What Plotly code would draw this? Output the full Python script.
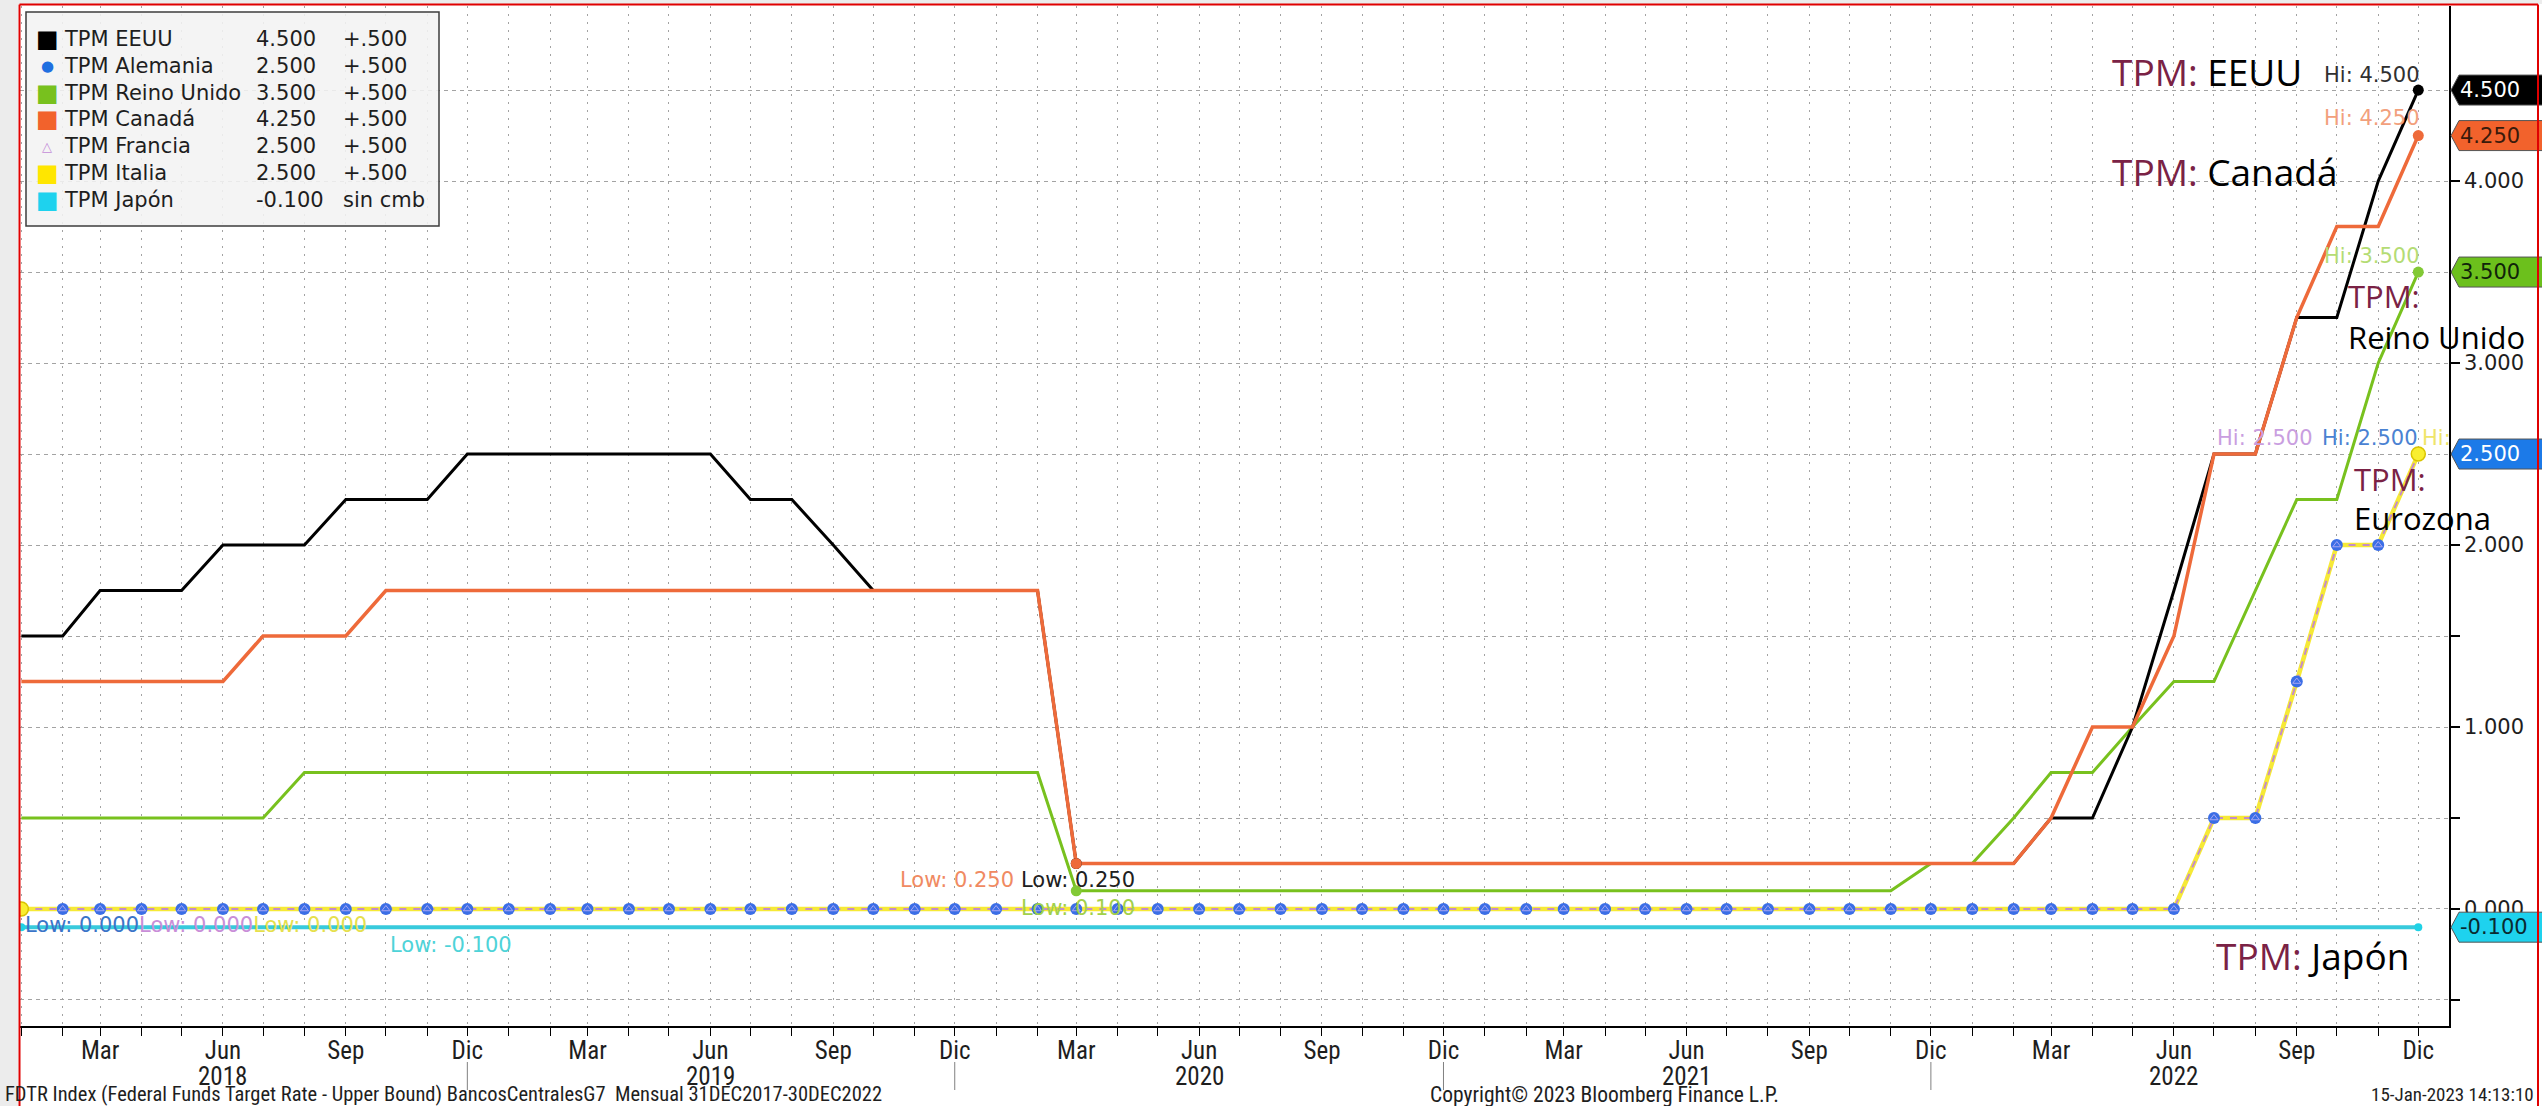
import pandas as pd
import plotly.graph_objects as go

# ---- data (month-end policy rates, Jan 2018 .. Dec 2022) ----
dates = pd.date_range("2018-01-01", "2022-12-01", freq="MS")

eeuu = [1.5, 1.5, 1.75, 1.75, 1.75, 2.0, 2.0, 2.0, 2.25, 2.25, 2.25, 2.5,
        2.5, 2.5, 2.5, 2.5, 2.5, 2.5, 2.25, 2.25, 2.0, 1.75, 1.75, 1.75,
        1.75, 1.75, 0.25, 0.25, 0.25, 0.25, 0.25, 0.25, 0.25, 0.25, 0.25, 0.25,
        0.25, 0.25, 0.25, 0.25, 0.25, 0.25, 0.25, 0.25, 0.25, 0.25, 0.25, 0.25,
        0.25, 0.25, 0.5, 0.5, 1.0, 1.75, 2.5, 2.5, 3.25, 3.25, 4.0, 4.5]
canada = [1.25, 1.25, 1.25, 1.25, 1.25, 1.25, 1.5, 1.5, 1.5, 1.75, 1.75, 1.75,
          1.75, 1.75, 1.75, 1.75, 1.75, 1.75, 1.75, 1.75, 1.75, 1.75, 1.75, 1.75,
          1.75, 1.75, 0.25, 0.25, 0.25, 0.25, 0.25, 0.25, 0.25, 0.25, 0.25, 0.25,
          0.25, 0.25, 0.25, 0.25, 0.25, 0.25, 0.25, 0.25, 0.25, 0.25, 0.25, 0.25,
          0.25, 0.25, 0.5, 1.0, 1.0, 1.5, 2.5, 2.5, 3.25, 3.75, 3.75, 4.25]
reino_unido = [0.5, 0.5, 0.5, 0.5, 0.5, 0.5, 0.5, 0.75, 0.75, 0.75, 0.75, 0.75,
               0.75, 0.75, 0.75, 0.75, 0.75, 0.75, 0.75, 0.75, 0.75, 0.75, 0.75, 0.75,
               0.75, 0.75, 0.1, 0.1, 0.1, 0.1, 0.1, 0.1, 0.1, 0.1, 0.1, 0.1,
               0.1, 0.1, 0.1, 0.1, 0.1, 0.1, 0.1, 0.1, 0.1, 0.1, 0.1, 0.25,
               0.25, 0.5, 0.75, 0.75, 1.0, 1.25, 1.25, 1.75, 2.25, 2.25, 3.0, 3.5]
alemania = [0.0] * 54 + [0.5, 0.5, 1.25, 2.0, 2.0, 2.5]
francia = [0.0] * 54 + [0.5, 0.5, 1.25, 2.0, 2.0, 2.5]
italia = [0.0] * 54 + [0.5, 0.5, 1.25, 2.0, 2.0, 2.5]
japon = [-0.1] * 60

month_abbr = {3: "Mar", 6: "Jun", 9: "Sep", 12: "Dic"}
y_ticks = [-0.5, 0.0, 0.5, 1.0, 1.5, 2.0, 2.5, 3.0, 3.5, 4.0, 4.5]

# ---- look ----
C = {
    "black": "#000000", "orange": "#ee6a3a", "green": "#78c11e",
    "blue": "#3b6ee6", "violet": "#c48cc8", "yellow": "#f6e936",
    "cyan": "#38cadc", "grid": "#a3a3a3", "ink": "#1e1e1e", "tpm": "#7a2245",
}
UI = "DejaVu Sans"
NARROW = "Roboto Condensed, Liberation Sans Narrow, Roboto, sans-serif"
BIG = "Open Sans"

W, H = 2542, 1106
L, R, T, B = 20, 2449, 6, 1026          # plot area in page pixels
Y_RANGE = [-0.643, 4.962]
X_RANGE = ["2017-12-31", "2022-12-24"]
PPU = (B - T) / (Y_RANGE[1] - Y_RANGE[0])  # pixels per rate unit


def xp(px):
    return (px - L) / (R - L)


def yp(py):
    return (B - py) / (B - T)


def hi_lo(vals):
    hi = max(vals)
    lo = min(vals)
    return len(vals) - 1 - vals[::-1].index(hi), vals.index(lo)


fig = go.Figure()

# ---- lines ----
fig.add_trace(go.Scatter(x=dates, y=japon, mode="lines",
                         line=dict(color=C["cyan"], width=4)))
fig.add_trace(go.Scatter(x=dates, y=italia, mode="lines",
                         line=dict(color=C["yellow"], width=4.5)))
fig.add_trace(go.Scatter(x=dates, y=francia, mode="lines",
                         line=dict(color=C["violet"], width=2, dash="7px,7px")))
fig.add_trace(go.Scatter(x=dates, y=alemania, mode="markers",
                         marker=dict(symbol="circle", size=12, color=C["blue"])))
fig.add_trace(go.Scatter(x=dates, y=francia, mode="markers",
                         marker=dict(symbol="triangle-up-open", size=7,
                                     color="#a9a6f2", line=dict(width=1))))
fig.add_trace(go.Scatter(x=dates, y=reino_unido, mode="lines",
                         line=dict(color=C["green"], width=3)))
fig.add_trace(go.Scatter(x=dates, y=eeuu, mode="lines",
                         line=dict(color=C["black"], width=3)))
fig.add_trace(go.Scatter(x=dates, y=canada, mode="lines",
                         line=dict(color=C["orange"], width=3.5)))

# ---- hi / low markers ----
for vals, col, size, lw in [(eeuu, C["black"], 11, 0), (reino_unido, "#82c935", 11, 0),
                            (canada, C["orange"], 11, 0), (italia, "#f9ee30", 14, 1.5),
                            (japon, "#1fd2e6", 8, 0)]:
    hi, lo = hi_lo(vals)
    fig.add_trace(go.Scatter(
        x=[dates[hi], dates[lo]], y=[vals[hi], vals[lo]], mode="markers",
        marker=dict(size=size, color=col, line=dict(width=lw, color="#d9c400")),
    ))


def label(x, y, text, color, xanchor="center", xshift=0, yshift=0):
    fig.add_annotation(x=x, y=y, text=text, showarrow=False, xanchor=xanchor,
                       yanchor="middle", xshift=xshift, yshift=yshift,
                       font=dict(family=UI, size=21, color=color))


i_hi, _ = hi_lo(eeuu)
label(dates[i_hi], eeuu[i_hi], f"Hi: {eeuu[i_hi]:.3f}", "#303030", "right", 4, 15)
i_hi, i_lo = hi_lo(canada)
label(dates[i_hi], canada[i_hi], f"Hi: {canada[i_hi]:.3f}", "#f2a07c", "right", 4, 18)
label(dates[i_lo], canada[i_lo], f"Low: {canada[i_lo]:.3f}", "#f08a62", "right", -60, -17)
_, i_lo = hi_lo(eeuu)
label(dates[i_lo], eeuu[i_lo], f"Low: {eeuu[i_lo]:.3f}", "#202020", "center", 2, -17)
i_hi, i_lo = hi_lo(reino_unido)
label(dates[i_hi], reino_unido[i_hi], f"Hi: {reino_unido[i_hi]:.3f}", "#b4dc74", "right", 4, 16)
label(dates[i_lo], reino_unido[i_lo], f"Low: {reino_unido[i_lo]:.3f}", "#a2d04a", "center", 2, -17)
i_hi, i_lo = hi_lo(alemania)
label(dates[i_hi], alemania[i_hi], f"Hi: {alemania[i_hi]:.3f}", "#4a82d2", "right", 2, 16)
label(dates[i_hi], francia[i_hi], f"Hi: {francia[i_hi]:.3f}", "#c99ee0", "right", -103, 16)
label(dates[i_hi], italia[i_hi], "Hi:", "#efe56a", "left", 2, 16)
label(dates[i_lo], alemania[i_lo],
      f"<span style='color:#3a74c8'>Low: {alemania[i_lo]:.3f}</span>"
      f"<span style='color:#c98ed8'>Low: {francia[i_lo]:.3f}</span>"
      f"<span style='color:#e6e04c'>Low: {italia[i_lo]:.3f}</span>",
      "#3a74c8", "left", 2, -16)
i_hi, i_lo = hi_lo(japon)
label(dates[i_hi], japon[i_hi], f"Hi: {japon[i_hi]:.3f}", "#3fcfd6", "left", 367, 16)
label(dates[i_lo], japon[i_lo], f"Low: {japon[i_lo]:.3f}", "#4ed3d8", "left", 367, -18)

# ---- last-value tags on the right axis ----
half = 15 / PPU
for vals, bg, fg in [(eeuu, "#000000", "#ffffff"), (canada, "#f2622c", "#3a1a0a"),
                     (reino_unido, "#6cc01c", "#10240a"), (alemania, "#1c7ae8", "#ffffff"),
                     (japon, "#1ed2ee", "#0a2a30")]:
    v = vals[-1]
    xt, xb, xr = xp(2451), xp(2459), xp(2560)
    fig.add_shape(type="path", xref="paper", yref="y", layer="above",
                  path=f"M {xt},{v} L {xb},{v + half} L {xr},{v + half} "
                       f"L {xr},{v - half} L {xb},{v - half} Z",
                  fillcolor=bg, line=dict(color="#555555", width=1))
    fig.add_annotation(xref="paper", x=xp(2459), y=v, text=f"{v:.3f}", showarrow=False,
                       xanchor="left", yanchor="middle", borderpad=0,
                       font=dict(family=UI, size=21, color=fg))


# ---- big TPM captions ----
def caption(px, py, name, size, prefix="TPM: "):
    fig.add_annotation(xref="paper", yref="paper", x=xp(px), y=yp(py), showarrow=False,
                       xanchor="left", yanchor="middle",
                       text=f"<span style='color:{C['tpm']}'>{prefix}</span>{name}",
                       font=dict(family=BIG, size=size, color="#000000"))


caption(2110, 72, "EEUU", 37)
caption(2110, 172, "Canadá", 37)
caption(2346, 296, "", 31, "TPM:")
caption(2346, 337, "Reino Unido", 31, "")
caption(2352, 479, "", 31, "TPM:")
caption(2352, 518, "Eurozona", 31, "")
caption(2214, 955, "Japón", 37)

# ---- custom legend box ----
fig.add_shape(type="rect", xref="paper", yref="paper", layer="above",
              x0=xp(26), x1=xp(439), y0=yp(12), y1=yp(226),
              fillcolor="rgba(242,242,242,0.88)", line=dict(color="#3c3c3c", width=1.5))
rows = [("TPM EEUU", eeuu, "■", "#000000", 24), ("TPM Alemania", alemania, "●", "#1f6fe0", 15),
        ("TPM Reino Unido", reino_unido, "■", "#78c11e", 24), ("TPM Canadá", canada, "■", "#f2622c", 24),
        ("TPM Francia", francia, "△", "#c48cd8", 13), ("TPM Italia", italia, "■", "#ffe600", 24),
        ("TPM Japón", japon, "■", "#1ed2ee", 24)]
for i, (name, vals, sym, col, ssize) in enumerate(rows):
    yy = yp(39 + 26.8 * i)
    chg = vals[-1] - vals[-2]
    chg_txt = "sin cmb" if chg == 0 else f"{chg:+.3f}".replace("0.", ".")
    for px, txt, anchor, fnt in [(47, sym, "center", dict(family=UI, size=ssize, color=col)),
                                 (62, name, "left", dict(family=UI, size=21, color=C["ink"])),
                                 (254, f"{vals[-1]:.3f}", "left", dict(family=UI, size=21, color=C["ink"])),
                                 (341, chg_txt, "left", dict(family=UI, size=21, color=C["ink"]))]:
        fig.add_annotation(xref="paper", yref="paper", x=xp(px), y=yy, text=txt,
                           showarrow=False, xanchor=anchor, yanchor="middle", font=fnt)

# ---- x axis: year labels and separators ----
for yr in range(2018, 2023):
    fig.add_annotation(x=pd.Timestamp(yr, 6, 1), yref="paper", y=yp(1076), text=str(yr),
                       showarrow=False, yanchor="middle", borderpad=0,
                       font=dict(family=NARROW, size=25, color=C["ink"]))
for yr in range(2018, 2022):
    fig.add_shape(type="line", x0=pd.Timestamp(yr, 12, 1), x1=pd.Timestamp(yr, 12, 1),
                  yref="paper", y0=yp(1062), y1=yp(1090), line=dict(color="#808080", width=1))

# ---- footer ----
for px, txt, anchor, size in [(4, "FDTR Index (Federal Funds Target Rate - Upper Bound) BancosCentralesG7  "
                                  "Mensual 31DEC2017-30DEC2022", "left", 20.5),
                              (1604, "Copyright© 2023 Bloomberg Finance L.P.", "center", 21.5),
                              (2535, "15-Jan-2023 14:13:10", "right", 19)]:
    fig.add_annotation(xref="paper", yref="paper", x=xp(px), y=yp(1094), text=txt,
                       showarrow=False, xanchor=anchor, yanchor="middle", borderpad=0,
                       font=dict(family=NARROW, size=size, color=C["ink"]))

# ---- screenshot frame: grey strip + red border ----
fig.add_shape(type="rect", xref="paper", yref="paper", layer="below",
              x0=xp(0), x1=xp(18), y0=yp(H), y1=yp(0), fillcolor="#ececec", line_width=0)
fig.add_shape(type="rect", xref="paper", yref="paper", layer="below",
              x0=xp(0), x1=xp(W), y0=yp(4), y1=yp(0), fillcolor="#ececec", line_width=0)
for x0, y0, x1, y1 in [(19.5, 4.5, 19.5, H), (19.5, 4.5, 2538, 4.5), (2538, 4.5, 2538, H)]:
    fig.add_shape(type="line", xref="paper", yref="paper", layer="above",
                  x0=xp(x0), y0=yp(y0), x1=xp(x1), y1=yp(y1),
                  line=dict(color="#e00000", width=2))

fig.update_layout(
    width=W, height=H, showlegend=False,
    margin=dict(l=L, r=W - R, t=T, b=H - B, pad=0),
    paper_bgcolor="#ffffff", plot_bgcolor="#ffffff",
    font=dict(family=UI, size=21, color=C["ink"]),
)
fig.update_xaxes(
    type="date", range=X_RANGE, tickvals=dates,
    ticktext=[month_abbr.get(d.month, "") for d in dates],
    ticks="outside", ticklen=8, tickwidth=1, tickcolor="#000000",
    ticklabelstandoff=-7,
    tickfont=dict(family=NARROW, size=25, color=C["ink"]),
    showgrid=True, gridcolor=C["grid"], gridwidth=1, griddash="2px,6px",
    showline=True, linecolor="#000000", linewidth=1.5, zeroline=False,
)
fig.update_yaxes(
    side="right", range=Y_RANGE, tickvals=y_ticks,
    ticktext=[f"{v:.3f}" if v >= 0 and v == int(v) else "" for v in y_ticks],
    ticks="outside", ticklen=9, tickwidth=1.5, tickcolor="#000000",
    tickfont=dict(family=UI, size=21, color=C["ink"]),
    showgrid=True, gridcolor=C["grid"], gridwidth=1, griddash="4px,4px",
    showline=True, linecolor="#000000", linewidth=1.5, zeroline=False,
)

fig.write_html("out.html", config={"displayModeBar": False},
               post_script="document.body.style.margin='0';document.body.style.overflow='hidden';")
